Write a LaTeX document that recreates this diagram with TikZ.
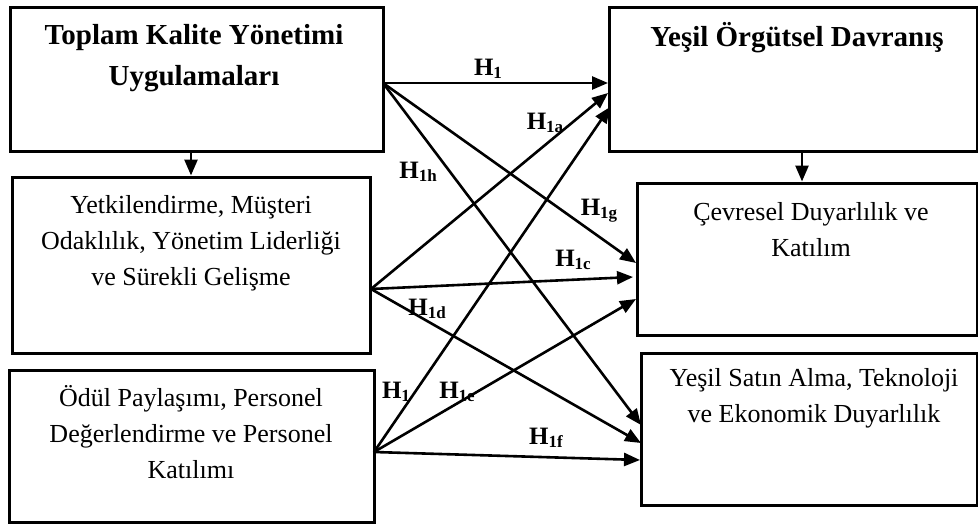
\documentclass[tikz,border=0pt]{standalone}
\usepackage{fontspec}
\setmainfont{Liberation Serif}
\usetikzlibrary{arrows.meta}
\newcommand{\hyp}[1]{\textbf{H\raisebox{-0.25ex}{\fontsize{8.5}{9}\selectfont #1}}}

\begin{document}
\begin{tikzpicture}[x=0.5pt,y=-0.5pt,
  box/.style={draw, line width=1.5pt, inner sep=0pt},
  txt/.style={align=center, inner sep=0pt, font=\fontsize{13}{18}\selectfont},
  head/.style={align=center, inner sep=0pt, font=\fontsize{14.5}{20.5}\selectfont\bfseries},
  hlab/.style={inner sep=0pt, font=\fontsize{12.5}{14}\selectfont},
  arr/.style={line width=1.3pt, -{Triangle[length=8pt,width=6.5pt]}}]
\useasboundingbox (0,0) rectangle (978,524);

\node (tky) at (196.5,79.5) [box, minimum width=186.5pt, minimum height=71.5pt] {};
\node (yet) at (191,265) [box, minimum width=179pt, minimum height=88pt] {};
\node (odul) at (191.5,446) [box, minimum width=182.5pt, minimum height=76pt] {};
\node (yod) at (793,79.5) [box, minimum width=184pt, minimum height=71.5pt] {};
\node (cev) at (807,259) [box, minimum width=170pt, minimum height=76pt] {};
\node (ysa) at (809,429) [box, minimum width=168pt, minimum height=76pt] {};

\node (tkytext) at (194,58) [head] {Toplam Kalite Yönetimi\\Uygulamaları};
\node (yettext) at (191,243) [txt] {Yetkilendirme, Müşteri\\Odaklılık, Yönetim Liderliği\\ve Sürekli Gelişme};
\node (odultext) at (191,432) [txt] {Ödül Paylaşımı, Personel\\Değerlendirme ve Personel\\Katılımı};
\node (yodtext) at (797,38) [head] {Yeşil Örgütsel Davranış};
\node (cevtext) at (811,230) [txt] {Çevresel Duyarlılık ve\\Katılım};
\node (ysatext) at (814,398) [txt] {Yeşil Satın Alma, Teknoloji\\ve Ekonomik Duyarlılık};

\coordinate (tkyout) at (383,83);
\coordinate (yetout) at (371,289);
\coordinate (odulout) at (374,452);
\coordinate (yod1) at (608,83);
\coordinate (yod2) at (608,93);
\coordinate (yod3) at (610,107);
\coordinate (cev1) at (636,263);
\coordinate (cev2) at (633,277);
\coordinate (cev3) at (636,299);
\coordinate (ysa1) at (641,425);
\coordinate (ysa2) at (641,443);
\coordinate (ysa3) at (640,460);
\coordinate (yodbot) at (802,151);

\draw[arr] (tky.south -| yet.north) -- (yet.north);
\draw[arr] (yodbot) -- (yodbot |- cev.north);

\draw[arr] (tkyout) -- (yod1);
\draw[arr] (tkyout) -- (cev1);
\draw[arr] (tkyout) -- (ysa1);
\draw[arr] (yetout) -- (yod2);
\draw[arr] (yetout) -- (cev2);
\draw[arr] (yetout) -- (ysa2);
\draw[arr] (odulout) -- (yod3);
\draw[arr] (odulout) -- (cev3);
\draw[arr] (odulout) -- (ysa3);

\node (h1) at (488,69) [hlab] {\hyp{1}};
\node (h1a) at (545,123) [hlab] {\hyp{1a}};
\node (h1h) at (418,172) [hlab] {\hyp{1h}};
\node (h1g) at (599,211) [hlab] {\hyp{1g}};
\node (h1c) at (573,260) [hlab] {\hyp{1c}};
\node (h1d) at (427,309) [hlab] {\hyp{1d}};
\node (h1b) at (396,392) [hlab] {\hyp{1}};
\node (h1e) at (457,392) [hlab] {\hyp{1e}};
\node (h1f) at (546,438) [hlab] {\hyp{1f}};
\end{tikzpicture}
\end{document}
